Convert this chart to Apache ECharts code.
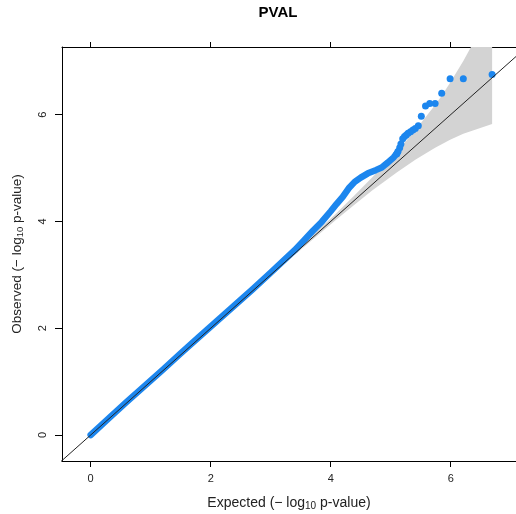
<!DOCTYPE html>
<html><head><meta charset="utf-8">
<script src="https://cdn.jsdelivr.net/npm/echarts@6/dist/echarts.min.js"></script>
<style>html,body{margin:0;padding:0;background:#fff}#c{width:516px;height:514px}</style>
</head><body><div id="c"></div>
<script>
const chartTitle = 'PVAL';
const xTicks = [0, 2, 4, 6];
const yTicks = [0, 2, 4, 6];
const refLine = [-1, 8];
// dense part of the observed vs expected points
const denseExpected = [0.00, 0.30, 0.60, 0.90, 1.20, 1.50, 1.80, 2.10, 2.40, 2.70, 3.00, 3.20, 3.40, 3.55, 3.70, 3.85, 4.00, 4.10, 4.20, 4.30, 4.40, 4.50, 4.62, 4.75, 4.85, 4.95, 5.05, 5.12];
const denseObserved = [0.00, 0.31, 0.62, 0.92, 1.22, 1.53, 1.83, 2.13, 2.43, 2.73, 3.04, 3.25, 3.46, 3.64, 3.82, 3.99, 4.19, 4.33, 4.46, 4.62, 4.74, 4.82, 4.90, 4.96, 5.01, 5.10, 5.20, 5.30];
// sparse tail points
const tailExpected = [6.69, 6.21, 5.99, 5.85, 5.74, 5.65, 5.58, 5.51, 5.46, 5.41, 5.37, 5.33, 5.29, 5.26, 5.23, 5.20, 5.17, 5.15, 5.12, 5.10];
const tailObserved = [6.75, 6.67, 6.67, 6.40, 6.21, 6.21, 6.16, 5.97, 5.79, 5.74, 5.71, 5.68, 5.65, 5.62, 5.59, 5.55, 5.45, 5.38, 5.31, 5.26];
// confidence band
const bandExpected = [0.00, 1.00, 2.00, 2.39, 2.69, 3.09, 3.39, 3.69, 4.09, 4.39, 4.69, 5.10, 5.41, 5.74, 5.85, 5.99, 6.21, 6.69];
const bandLower    = [0.00, 0.999, 1.995, 2.380, 2.678, 3.069, 3.362, 3.653, 4.030, 4.308, 4.578, 4.917, 5.156, 5.379, 5.446, 5.530, 5.643, 5.822];
const bandUpper    = [0.00, 1.001, 2.005, 2.398, 2.702, 3.107, 3.416, 3.729, 4.150, 4.479, 4.820, 5.302, 5.708, 6.179, 6.352, 6.598, 7.005, 7.986];

const FONT = 'Liberation Sans';
const BLUE = '#1C86EE';
const zip = (a, b) => a.map((v, i) => [v, b[i]]);

const chart = echarts.init(document.getElementById('c'), null, {renderer: 'canvas'});
const axisCommon = {
  type: 'value',
  splitLine: {show: false},
  axisLine: {show: true, onZero: false, lineStyle: {color: '#000', width: 1}},
};
const XMIN = -0.478, XMAX = 7.088;
const nameRich = (big, small) => ({
  a: {fontSize: big, fontFamily: FONT, color: '#222'},
  s: {fontSize: small, fontFamily: FONT, color: '#222', verticalAlign: 'bottom', padding: [5, 0, 0, 0]}
});
chart.setOption({
  animation: false,
  backgroundColor: '#fff',
  title: {
    text: chartTitle, left: 278, top: 5, padding: 0, textAlign: 'center',
    textStyle: {fontFamily: FONT, fontSize: 15, fontWeight: 'bold', color: '#000'}
  },
  grid: {left: 62, top: 47, right: 0, bottom: 53, containLabel: false, outerBoundsMode: 'none'},
  xAxis: [
    Object.assign({}, axisCommon, {
      position: 'bottom', min: XMIN, max: XMAX,
      axisTick: {show: true, length: 6, customValues: xTicks, lineStyle: {color: '#000'}},
      axisLabel: {customValues: xTicks, margin: 12, fontSize: 11, color: '#222', fontFamily: FONT},
      name: '{a|Expected (\u2212 log}{s|10}{a| p-value)}',
      nameLocation: 'middle', nameGap: 35,
      nameTextStyle: {rich: nameRich(14, 10)}
    }),
    Object.assign({}, axisCommon, {
      position: 'top', min: XMIN, max: XMAX,
      axisTick: {show: true, length: 5, customValues: xTicks, lineStyle: {color: '#000'}},
      axisLabel: {show: false}
    })
  ],
  yAxis: [
    Object.assign({}, axisCommon, {
      position: 'left', min: -0.487, max: 7.266,
      axisTick: {show: true, length: 7, customValues: yTicks, lineStyle: {color: '#000'}},
      axisLabel: {customValues: yTicks, margin: 14, rotate: 90, fontSize: 11, color: '#222', fontFamily: FONT},
      name: '{a|Observed (\u2212 log}{s|10}{a| p-value)}',
      nameLocation: 'middle', nameGap: 37,
      nameTextStyle: {rich: nameRich(13.5, 9.5)}
    })
  ],
  series: [
    {
      type: 'custom', clip: true, silent: true, data: [[0, 0]],
      renderItem: function (params, api) {
        const pts = [];
        for (let i = 0; i < bandExpected.length; i++) pts.push(api.coord([bandExpected[i], bandUpper[i]]));
        for (let i = bandExpected.length - 1; i >= 0; i--) pts.push(api.coord([bandExpected[i], bandLower[i]]));
        return {type: 'polygon', shape: {points: pts}, style: {fill: '#D3D3D3', stroke: null}};
      }
    },
    {
      type: 'line', data: zip(denseExpected, denseObserved), symbol: 'none',
      lineStyle: {color: BLUE, width: 6.5, cap: 'round', join: 'round'}, silent: true
    },
    {
      type: 'scatter', data: zip(tailExpected, tailObserved), symbol: 'circle', symbolSize: 7,
      itemStyle: {color: BLUE, opacity: 1}, silent: true
    },
    {
      type: 'line', data: zip(refLine, refLine), symbol: 'none',
      lineStyle: {color: '#222', width: 1}, silent: true
    }
  ]
});
</script>
</body></html>
